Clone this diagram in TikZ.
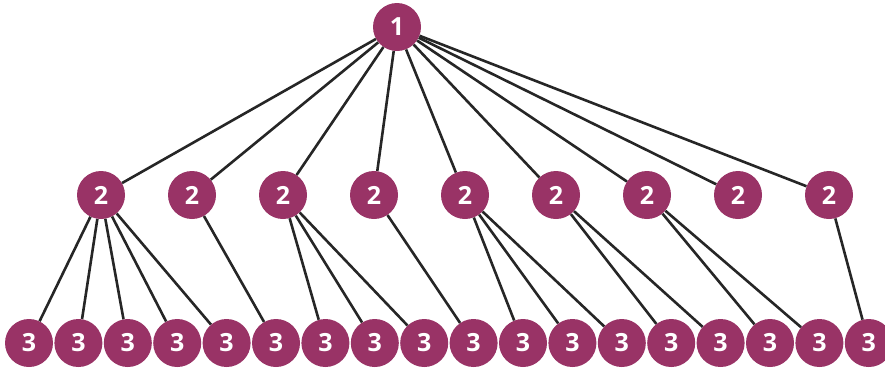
\documentclass[tikz,border=0pt]{standalone}
\usepackage{fontspec}
\setmainfont{Open Sans}
\usetikzlibrary{positioning}
\definecolor{plum}{RGB}{153,51,102}
\definecolor{edgegray}{RGB}{38,38,38}

\begin{document}
\begin{tikzpicture}[x=1pt,y=-1pt,
item/.style={circle,fill=plum,text=white,inner sep=0pt,minimum size=48pt,
  font=\fontsize{25}{25}\selectfont\bfseries},
edge/.style={draw=edgegray,line width=2.6pt}]
\useasboundingbox (0,0) rectangle (885,368);

\node[item] (r) at (397,27) {1};

\foreach \T in {1,...,9}
{\node[item] (m\T) at ({101+91*(\T-1)},195) {2};
 \draw[edge] (r) -- (m\T);}

\foreach \T in {1,...,18}
 \node[item] (l\T) at ({29+49.4*(\T-1)},343) {3};

\foreach \P/\C in {1/1,1/2,1/3,1/4,1/5,2/6,3/7,3/8,3/9,4/10,
  5/11,5/12,5/13,6/14,6/15,7/16,7/17,9/18}
 \draw[edge] (m\P) -- (l\C);
\end{tikzpicture}
\end{document}
